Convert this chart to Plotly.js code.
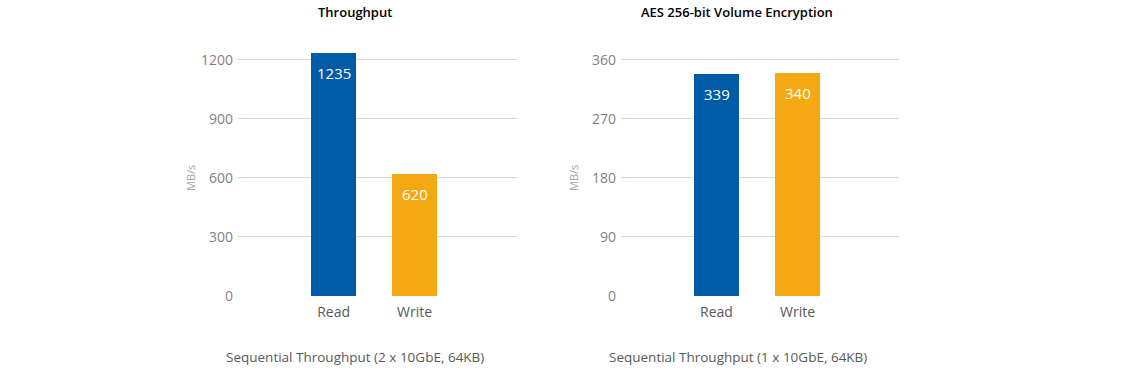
<!DOCTYPE html>
<html>
<head>
<meta charset="utf-8">
<script src="https://cdn.plot.ly/plotly-3.0.1.min.js"></script>
<style>html,body{margin:0;padding:0;background:#fff}#chart{width:1140px;height:371px}</style>
</head>
<body>
<div id="chart"></div>
<script>
const categories = ["Read", "Write"];
const throughputValues = [1235, 620];
const encryptionValues = [339, 340];
const throughputTicks = [0, 300, 600, 900, 1200];
const encryptionTicks = [0, 90, 180, 270, 360];
const titles = ["Throughput", "AES 256-bit Volume Encryption"];
const xTitles = ["Sequential Throughput (2 x 10GbE, 64KB)", "Sequential Throughput (1 x 10GbE, 64KB)"];
const yTitle = "MB/s";

const W = 1140, H = 371;
const px = v => v / W;
const py = v => 1 - v / H;
const FONT = "Open Sans, Noto Sans, sans-serif";
const colors = ["#005BA6", "#F4A912"];

function barTrace(vals, xa, ya) {
  return {
    type: "bar", x: categories, y: vals, xaxis: xa, yaxis: ya,
    marker: {color: colors, line: {width: 0}},
    width: 0.556, hoverinfo: "none"
  };
}
function labels(vals, xa, ya) {
  return vals.map((v, i) => ({
    text: String(v), x: categories[i], y: v, xref: xa, yref: ya,
    showarrow: false, xanchor: "center", yanchor: "top", yshift: -8,
    font: {color: "#ffffff", size: 15, family: FONT}
  }));
}

const yDomain = [py(296), py(50)];
const axisCommon = {
  showline: false, zeroline: false, gridcolor: "#D9D9D9", gridwidth: 1,
  tickfont: {color: "#7F7F7F", size: 14, family: FONT}, ticks: "", fixedrange: true
};
const xCommon = {
  type: "category", showgrid: false, showline: false, zeroline: false, ticks: "",
  tickfont: {color: "#595959", size: 14, family: FONT}, fixedrange: true, ticklabelstandoff: 6
};
const ann = (text, x, y, size, color, extra) => Object.assign({
  text, x: px(x), y: py(y), xref: "paper", yref: "paper", showarrow: false,
  xanchor: "center", yanchor: "middle", font: {size, color, family: FONT}
}, extra || {});

const layout = {
  width: W, height: H, margin: {l: 0, r: 0, t: 0, b: 0},
  paper_bgcolor: "#fff", plot_bgcolor: "#fff", showlegend: false, bargap: 0,
  font: {family: FONT},
  xaxis: Object.assign({}, xCommon, {domain: [px(238), px(517)], range: [-1.18, 2.265], anchor: "y"}),
  yaxis: Object.assign({}, axisCommon, {domain: yDomain, range: [0, 1250], tickvals: throughputTicks, anchor: "x", ticklabelstandoff: 4}),
  xaxis2: Object.assign({}, xCommon, {domain: [px(621), px(899)], range: [-1.179, 2.253], anchor: "y2"}),
  yaxis2: Object.assign({}, axisCommon, {domain: yDomain, range: [0, 375], tickvals: encryptionTicks, anchor: "x2", ticklabelstandoff: 4}),
  annotations: [
    ann(titles[0], 355, 12, 13, "#000", {font: {size: 13, color: "#000", family: FONT, weight: 600}}),
    ann(titles[1], 737, 12, 13, "#000", {font: {size: 13, color: "#000", family: FONT, weight: 600}}),
    ann(xTitles[0], 355, 357, 13.5, "#595959"),
    ann(xTitles[1], 738, 357, 13.5, "#595959"),
    ann(yTitle, 191, 178, 11, "#A6A6A6", {textangle: -90}),
    ann(yTitle, 574, 178, 11, "#A6A6A6", {textangle: -90})
  ].concat(labels(throughputValues, "x", "y"), labels(encryptionValues, "x2", "y2"))
};

Plotly.newPlot("chart", [barTrace(throughputValues, "x", "y"), barTrace(encryptionValues, "x2", "y2")], layout, {displayModeBar: false, staticPlot: true});
</script>
</body>
</html>
